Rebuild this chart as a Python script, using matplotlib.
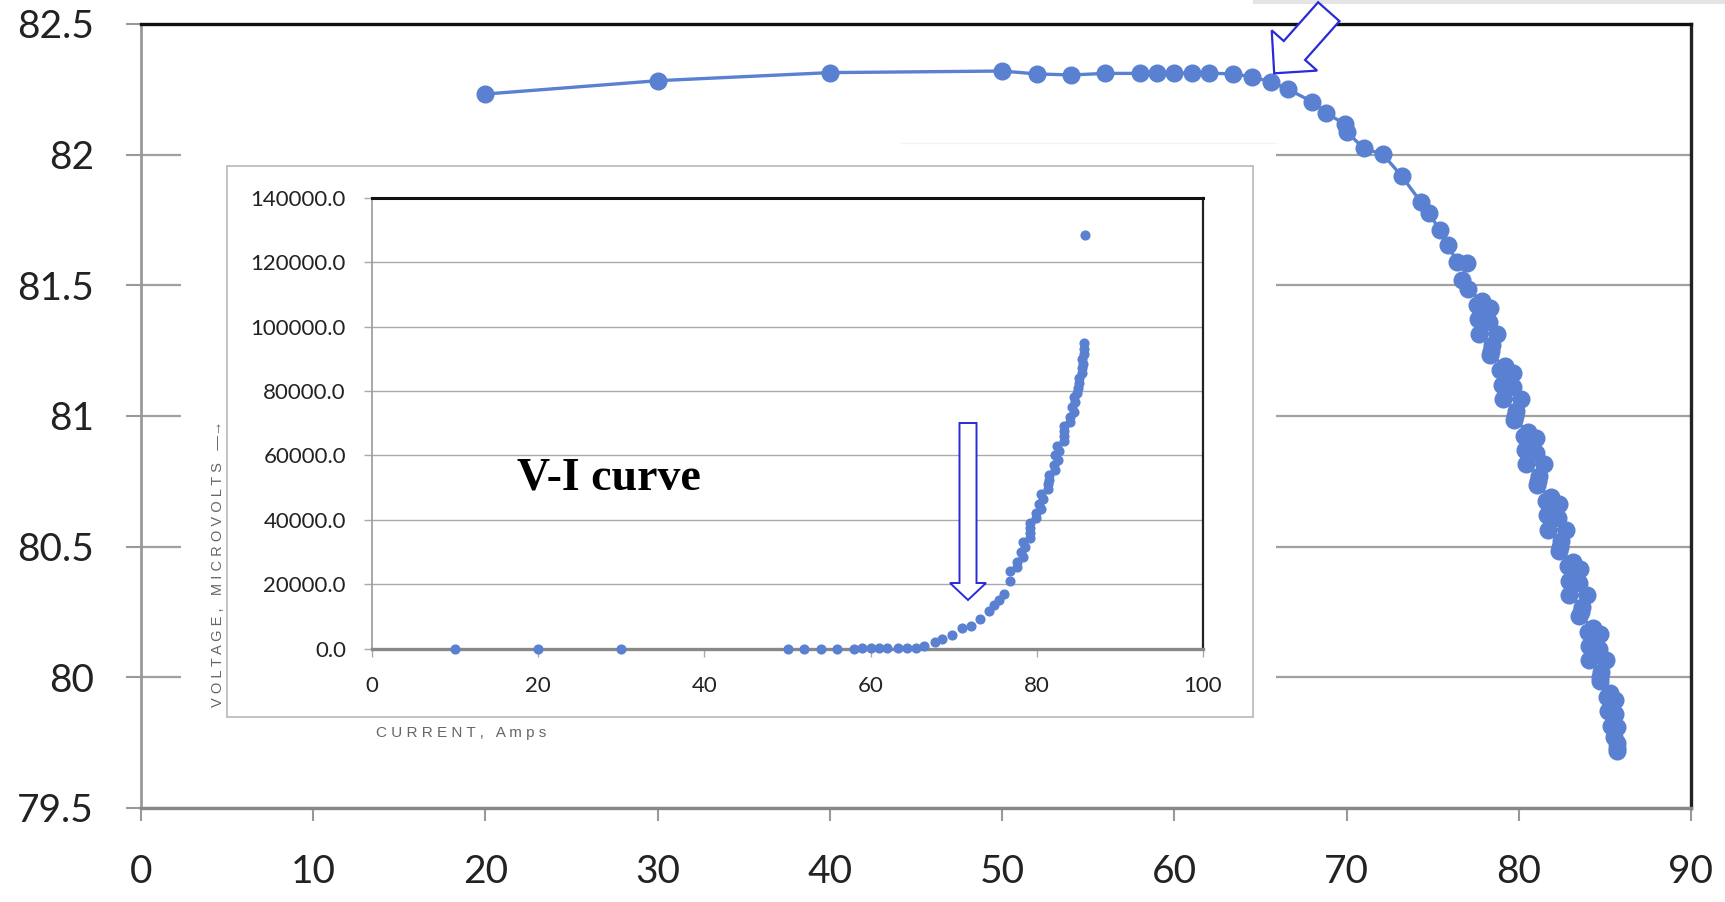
import matplotlib.pyplot as plt
from matplotlib.patches import Rectangle, FancyArrow
from matplotlib.lines import Line2D
from matplotlib.transforms import IdentityTransform

plt.rcParams["font.family"] = ["Lato", "DejaVu Sans"]

# main chart: current (A) vs reading
current = [20, 30, 40, 50, 52, 54, 56, 58, 59, 60, 61, 62, 63.4, 64.5, 65.6,
           66.6, 68.0, 68.8, 69.9, 70.0, 71.0, 72.1, 73.2, 74.3, 74.8, 75.4,
           75.9, 76.4, 77.0, 76.7,
           77.03, 77.86, 77.59, 78.32, 77.65, 78.28, 77.71, 78.74, 78.47, 78.40,
           78.34, 79.18, 78.92, 79.66, 79.00, 79.64, 79.08, 80.12, 79.86, 79.80,
           79.73, 80.56, 80.29, 81.02, 80.35, 80.98, 80.41, 81.44, 81.17, 81.10,
           81.03, 81.86, 81.59, 82.32, 81.65, 82.28, 81.71, 82.74, 82.47, 82.40,
           82.32, 83.14, 82.86, 83.58, 82.90, 83.52, 82.94, 83.96, 83.68, 83.60,
           83.51, 84.32, 84.03, 84.74, 84.05, 84.66, 84.07, 85.08, 84.79, 84.70,
           84.70, 85.30, 85.10, 85.60, 85.20, 85.60, 85.35, 85.70, 85.52, 85.70,
           85.68, 85.72]
reading = [82.232, 82.283, 82.314, 82.320, 82.309, 82.305, 82.311, 82.311,
           82.311, 82.312, 82.312, 82.312, 82.309, 82.298, 82.279, 82.250,
           82.203, 82.160, 82.117, 82.088, 82.024, 82.002, 81.918, 81.820,
           81.775, 81.712, 81.654, 81.590, 81.584, 81.520,
           81.485, 81.44, 81.425, 81.415, 81.37, 81.36, 81.315, 81.315, 81.27,
           81.25, 81.235, 81.19, 81.175, 81.165, 81.12, 81.11, 81.065, 81.065,
           81.02, 81.0, 80.985, 80.94, 80.925, 80.915, 80.87, 80.86, 80.815,
           80.815, 80.77, 80.75, 80.735, 80.69, 80.675, 80.665, 80.62, 80.61,
           80.565, 80.565, 80.52, 80.50, 80.485, 80.44, 80.425, 80.415, 80.37,
           80.36, 80.315, 80.315, 80.27, 80.25, 80.235, 80.19, 80.175, 80.165,
           80.12, 80.11, 80.065, 80.065, 80.02, 80.0, 79.985, 79.94, 79.925,
           79.915, 79.87, 79.86, 79.815, 79.81, 79.77, 79.75, 79.73, 79.72]
main_xticks = [0, 10, 20, 30, 40, 50, 60, 70, 80, 90]
main_yticks = [79.5, 80, 80.5, 81, 81.5, 82, 82.5]
main_ylabels = ["79.5", "80", "80.5", "81", "81.5", "82", "82.5"]

# inset: V-I curve (current in A, voltage in microvolts)
vi_current = [10, 20, 30, 50, 52, 54, 56, 58, 59, 60, 61, 62, 63.3, 64.4,
              65.5, 66.4, 67.8, 68.6, 69.8, 71.0, 72.1, 73.2, 74.2, 74.8,
              75.4, 76.0, 76.8,
              76.76, 77.56, 77.65, 78.30, 78.04, 78.63, 78.37, 79.17, 79.16,
              79.21, 79.20, 79.93, 79.96, 80.54, 80.22, 80.75, 80.51, 81.33,
              81.35, 81.43, 81.45, 82.15, 82.11, 82.61, 82.23, 82.72, 82.46,
              83.25, 83.26, 83.32, 83.30, 83.97, 83.94, 84.48, 84.24, 84.54,
              84.49, 84.86, 84.93, 85.03, 85.11, 85.47, 85.39, 85.59, 85.43,
              85.65, 85.63, 85.72, 85.8]
vi_voltage = [0, 0, 0, 0, 0, 0, 40, 60, 80, 100, 120, 150, 180, 220,
              360, 830, 2000, 2970, 4400, 6300, 6900, 9300, 11650, 13430,
              15200, 17000, 21150,
              24000, 25500, 27000, 28500, 30000, 31500, 33000, 34500, 36000,
              37500, 39000, 40500, 42000, 43500, 45000, 46500, 48000, 49500,
              51000, 52500, 54000, 55500, 57000, 58500, 60000, 61500, 63000,
              64500, 66000, 67500, 69000, 70500, 72000, 73500, 75000, 76500,
              78000, 79500, 81000, 82500, 84000, 85500, 87000, 88500, 90000,
              91500, 93000, 94800, 128500]
vi_xticks = [0, 20, 40, 60, 80, 100]
vi_yticks = [0, 20000, 40000, 60000, 80000, 100000, 120000, 140000]

blue = "#5a80d2"
arrow_blue = "#2a2ad6"
W, H = 1725, 902

fig = plt.figure(figsize=(17.25, 9.02), dpi=100)

# main axes
ax = fig.add_axes([141 / W, 1 - 808 / H, 1550 / W, 784 / H], zorder=0)
ax.plot(current, reading, "-o", color=blue, lw=2.4, ms=12, zorder=3, clip_on=False)
ax.set_xlim(0, 90)
ax.set_ylim(79.5, 82.5)
ax.set_xticks(main_xticks)
ax.set_yticks(main_yticks)
ax.set_yticklabels(main_ylabels)
ax.yaxis.grid(True, color="#a0a0a0", lw=1.6)
ax.set_axisbelow(True)
ax.spines["top"].set_color("#111111")
ax.spines["top"].set_linewidth(2.4)
ax.spines["right"].set_color("#222222")
ax.spines["right"].set_linewidth(2.4)
ax.spines["left"].set_color("#999999")
ax.spines["left"].set_linewidth(2.0)
ax.spines["bottom"].set_color("#888888")
ax.spines["bottom"].set_linewidth(2.4)
ax.tick_params(axis="y", length=10.8, width=1.5, color="#999999", pad=23,
               labelsize=28, labelcolor="#222222")
ax.tick_params(axis="x", length=9.4, width=1.5, color="#999999", pad=24,
               labelsize=28, labelcolor="#222222")

# pasted inset picture covers the middle of the main chart
fig.add_artist(Rectangle((181 / W, 1 - 775 / H), 1095 / W, 632 / H,
                         transform=fig.transFigure, facecolor="white",
                         edgecolor="none", zorder=1))
fig.add_artist(Line2D([900 / W, 1276 / W], [1 - 143 / H, 1 - 143 / H],
                      transform=fig.transFigure, color="#f4f4f4", lw=1, zorder=1.1))
fig.add_artist(Rectangle((227 / W, 1 - 717 / H), 1026 / W, 551 / H,
                         transform=fig.transFigure, facecolor="white",
                         edgecolor="#b8b8b8", lw=1.2, zorder=1.5))
fig.add_artist(Rectangle((1253 / W, 1 - 4 / H), 472 / W, 4 / H,
                         transform=fig.transFigure, facecolor="#e4e4e4",
                         edgecolor="none", zorder=1))

# inset axes
ins = fig.add_axes([372 / W, 1 - 648.7 / H, 831 / W, 450.9 / H], zorder=2)
ins.plot(vi_current, vi_voltage, "o", color=blue, ms=6.3, zorder=3, clip_on=False)
ins.set_xlim(0, 100)
ins.set_ylim(0, 140000)
ins.set_xticks(vi_xticks)
ins.set_yticks(vi_yticks)
ins.set_yticklabels([f"{v:.1f}" for v in vi_yticks])
ins.yaxis.grid(True, color="#aaaaaa", lw=1.0)
ins.set_axisbelow(True)
ins.spines["top"].set_color("#111111")
ins.spines["top"].set_linewidth(2.2)
ins.spines["right"].set_color("#222222")
ins.spines["right"].set_linewidth(1.6)
ins.spines["left"].set_color("#999999")
ins.spines["left"].set_linewidth(1.2)
ins.spines["bottom"].set_color("#888888")
ins.spines["bottom"].set_linewidth(2.4)
ins.tick_params(axis="y", length=5.8, width=1, color="#aaaaaa", pad=13,
                labelsize=16, labelcolor="#222222")
ins.tick_params(axis="x", length=5.8, width=1, color="#aaaaaa", pad=13.7,
                labelsize=16, labelcolor="#222222")

fig.text(517 / W, 1 - 490 / H, "V-I curve", fontfamily="Liberation Serif",
         fontweight="bold", fontsize=33, va="baseline", ha="left", zorder=3)
fig.text(218 / W, 1 - 564 / H, "V O L T A G E ,   M I C R O V O L T S   —→",
         rotation=90, ha="center", va="center", fontsize=10.5, color="#666666",
         family=["Liberation Sans", "DejaVu Sans"], zorder=3)
fig.text(376 / W, 1 - 733 / H, "C U R R E N T ,   A m p s", ha="left",
         va="center", fontsize=11, color="#666666",
         family=["Liberation Sans", "DejaVu Sans"], zorder=3)

# hollow pointer arrows
fig.add_artist(FancyArrow(1328.8, H - 11.7, -54.6, -61.6, width=28.5,
                          head_width=60.7, head_length=30.5,
                          length_includes_head=True, facecolor="white",
                          edgecolor=arrow_blue, lw=1.6,
                          transform=IdentityTransform(), zorder=5))
fig.add_artist(FancyArrow(968, H - 423, 0, -177, width=17, head_width=36,
                          head_length=17, length_includes_head=True,
                          facecolor="white", edgecolor=arrow_blue, lw=1.4,
                          transform=IdentityTransform(), zorder=5))

fig.savefig("out.png", dpi=100, facecolor="white")
